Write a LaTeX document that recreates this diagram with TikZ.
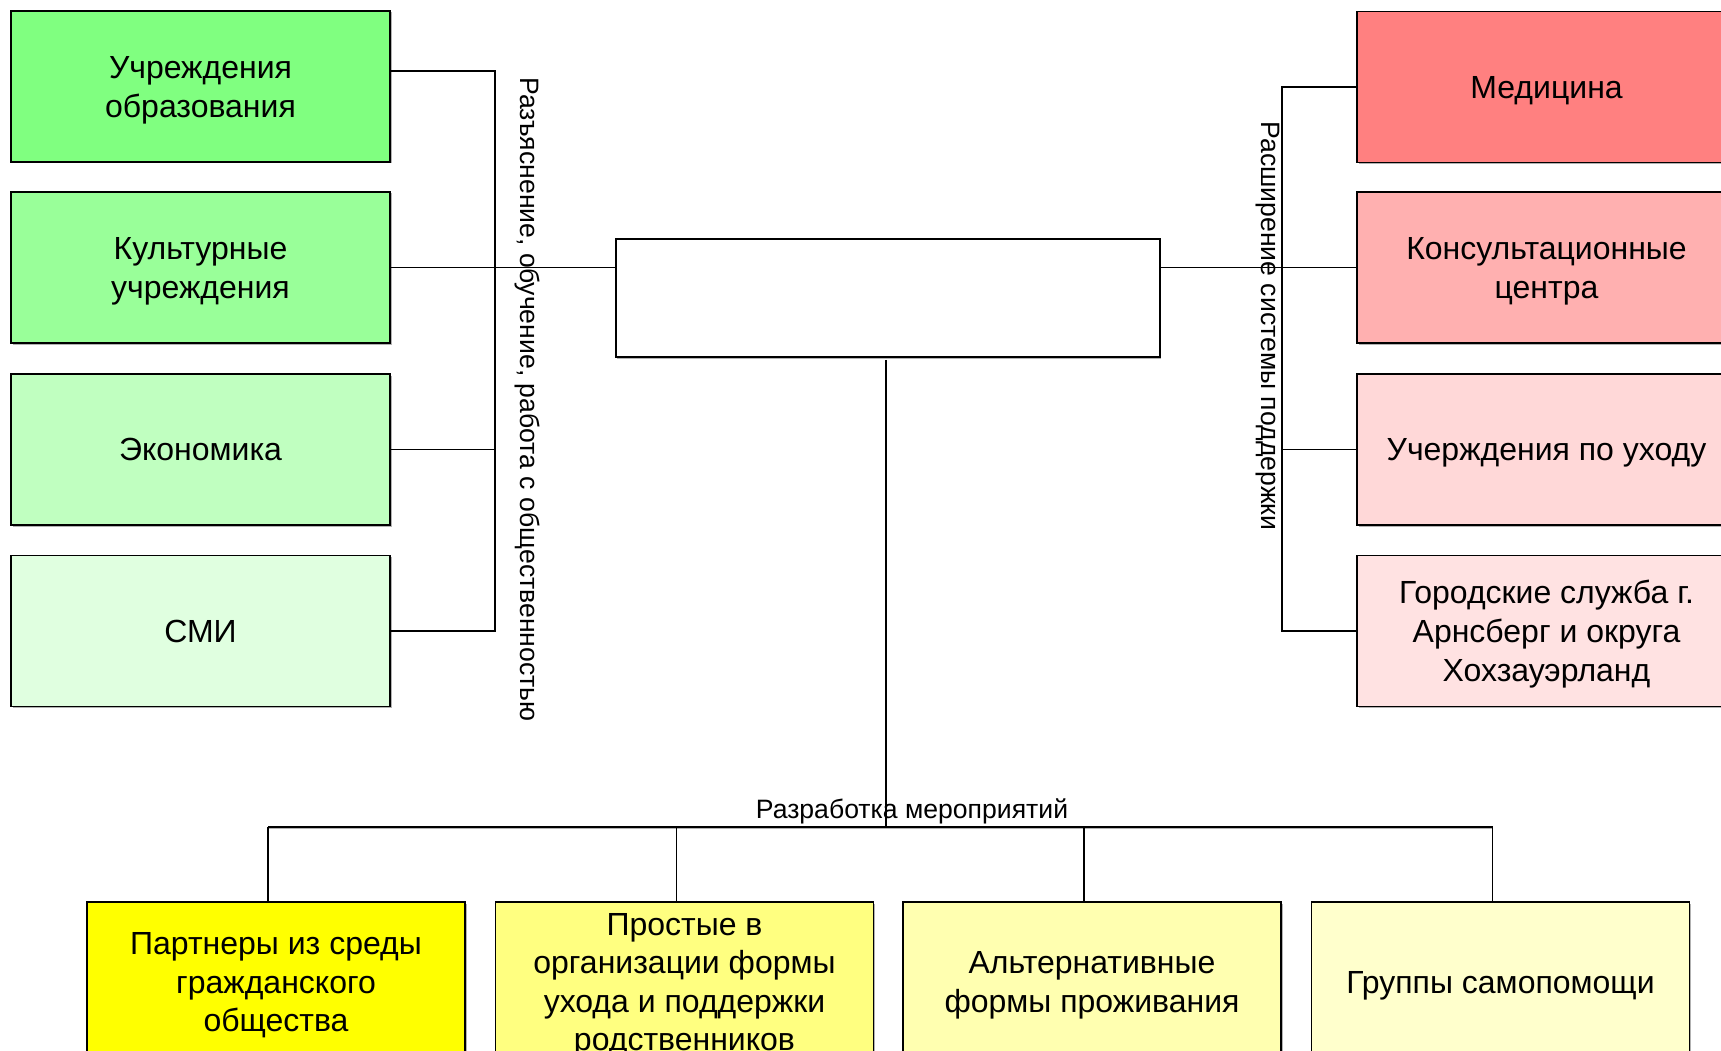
\documentclass[tikz,border=0pt]{standalone}
\usepackage{fontspec}
\setmainfont{Liberation Sans}
\usetikzlibrary{shadows}
\definecolor{gA}{HTML}{80FF80}
\definecolor{gB}{HTML}{99FF99}
\definecolor{gC}{HTML}{C0FFC0}
\definecolor{gD}{HTML}{E0FFE0}
\definecolor{rA}{HTML}{FF8080}
\definecolor{rB}{HTML}{FFB0B0}
\definecolor{rC}{HTML}{FFD8D8}
\definecolor{rD}{HTML}{FFE2E2}
\definecolor{yA}{HTML}{FFFF00}
\definecolor{yB}{HTML}{FFFF80}
\definecolor{yC}{HTML}{FFFFB0}
\definecolor{yD}{HTML}{FFFFCC}
\newcommand\topstrut{\rule{0pt}{0.905em}}
\newcommand\botstrut{\rule[-0.212em]{0pt}{0.212em}}
\tikzset{
  boxshape/.style={draw=black, line width=1.5pt, inner sep=0pt, align=center,
    drop shadow={shadow xshift=1.5pt, shadow yshift=-1.5pt, fill=gray!60, opacity=1}},
  sidebox/.style={boxshape, minimum width=379pt, minimum height=151pt,
    font=\fontsize{32}{39}\selectfont},
  botbox/.style={boxshape, minimum width=378pt, minimum height=160pt,
    font=\fontsize{32}{38.5}\selectfont},
  centerbox/.style={boxshape, fill=white, minimum width=544pt, minimum height=118pt},
  conn/.style={line width=1.5pt, draw=black},
  vlabel/.style={font=\fontsize{26.6}{30}\selectfont, inner sep=0pt, rotate=-90},
  hlabel/.style={font=\fontsize{26.6}{30}\selectfont, inner sep=0pt}
}
\begin{document}
\begin{tikzpicture}[x=1pt,y=-1pt]
\useasboundingbox (0,0) rectangle (1721,1051);
\clip (0,0) rectangle (1721,1051);
\fill[white] (0,0) rectangle (1721,1051);

% left column
\node[sidebox, fill=gA] (l1) at (200.5,86.5) {\topstrut Учреждения\\образования\botstrut};
\node[sidebox, fill=gB] (l2) at (200.5,267.5) {\topstrut Культурные\\учреждения\botstrut};
\node[sidebox, fill=gC] (l3) at (200.5,449.5) {\topstrut Экономика\botstrut};
\node[sidebox, fill=gD] (l4) at (200.5,631) {\topstrut СМИ\botstrut};

% right column
\node[sidebox, fill=rA] (r1) at (1546.5,87) {\topstrut Медицина\botstrut};
\node[sidebox, fill=rB] (r2) at (1546.5,267.5) {\topstrut Консультационные\\центра\botstrut};
\node[sidebox, fill=rC] (r3) at (1546.5,449.5) {\topstrut Учерждения по уходу\botstrut};
\node[sidebox, fill=rD] (r4) at (1546.5,631) {\topstrut Городские служба г.\\Арнсберг и округа\\Хохзауэрланд\botstrut};

% center
\node[centerbox] (c) at (887.75,298) {};

% bottom row
\node[botbox, fill=yA] (b1) at (276,982) {\topstrut Партнеры из среды\\гражданского\\общества\botstrut};
\node[botbox, fill=yB] (b2) at (684.5,982) {\topstrut Простые в\\организации формы\\ухода и поддержки\\родственников\botstrut};
\node[botbox, fill=yC] (b3) at (1092,982) {\topstrut Альтернативные\\формы проживания\botstrut};
\node[botbox, fill=yD] (b4) at (1500.5,982) {\topstrut Группы самопомощи\botstrut};

% left bracket
\coordinate (lx) at (495,0);
\coordinate (l1e) at ([yshift=15.5pt]l1.east);
\draw[conn] (l1e) -- (l1e -| lx) -- (l4.east -| lx) -- (l4.east);
\draw[conn] (l2.east) -- (c.west |- l2.east);
\draw[conn] (l3.east) -- (l3.east -| lx);

% right bracket
\coordinate (rx) at (1282,0);
\draw[conn] (r1.west) -- (r1.west -| rx) -- (r4.west -| rx) -- (r4.west);
\draw[conn] (c.east |- r2.west) -- (r2.west);
\draw[conn] (r3.west) -- (r3.west -| rx);

% bottom tree
\coordinate (bus) at (886,827);
\coordinate (d1) at ([xshift=-8pt]b1.north);
\coordinate (d2) at ([xshift=-8pt]b2.north);
\coordinate (d3) at ([xshift=-8pt]b3.north);
\coordinate (d4) at ([xshift=-8pt]b4.north);
\draw[conn] ([yshift=-2pt]c.south -| bus) -- (bus);
\draw[line width=1.5pt, gray!60] ([yshift=-1.5pt]d1 |- bus) -- ([yshift=-1.5pt]d4 |- bus);
\draw[conn, line width=1.8pt] (d1 |- bus) -- (d4 |- bus);
\draw[conn] (d1 |- bus) -- (d1);
\draw[conn] (d2 |- bus) -- (d2);
\draw[conn] (d3 |- bus) -- (d3);
\draw[conn] (d4 |- bus) -- (d4);

% labels
\node[vlabel] (ll) at (527,399.5) {Разъяснение, обучение, работа с общественностью};
\node[vlabel] (rl) at (1268,326) {Расширение системы поддержки};
\node[hlabel, anchor=base] (bl) at (912,818) {Разработка мероприятий};
\end{tikzpicture}
\end{document}
